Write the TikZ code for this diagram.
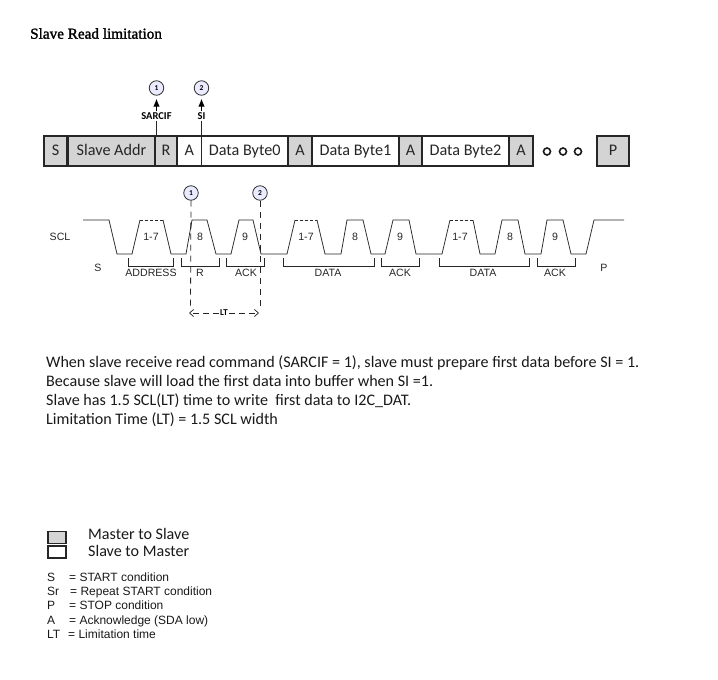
\documentclass[tikz,border=0pt]{standalone}
\usepackage{fontspec}
\setmainfont{Liberation Sans}
\newfontfamily\calfont{Carlito}
\newfontfamily\serfont[FakeBold=1.6]{Liberation Serif}
\usetikzlibrary{arrows.meta}
\tikzset{
  cell/.style={draw=black!85,line width=1.3pt,minimum height=30pt,inner sep=0pt,text height=11pt,text depth=3pt,font=\calfont\fontsize{16.2}{16}\selectfont,text=black!85},
  mst/.style={cell,fill=black!17},
  slv/.style={cell,fill=white},
  num/.style={circle,draw=black!80,line width=.8pt,fill=blue!8,minimum size=14.5pt,inner sep=0pt,font=\calfont\bfseries\fontsize{7.5}{7.5}\selectfont},
  tag/.style={font=\calfont\bfseries\fontsize{10.5}{10.5}\selectfont,inner sep=0pt},
  dotc/.style={circle,draw=black!90,line width=1.6pt,minimum size=7pt,inner sep=0pt},
  wave/.style={draw=black!85,line width=.75pt},
  sig/.style={font=\fontsize{10.6}{11}\selectfont,text=black!85,inner sep=0pt},
  body/.style={font=\calfont\fontsize{16.1}{16}\selectfont,anchor=west,inner sep=0pt,text=black!90,text height=11pt,text depth=3pt},
  key/.style={font=\fontsize{12}{12}\selectfont,anchor=west,inner sep=0pt,text=black!90,text height=9pt,text depth=3pt},
  swatch/.style={draw=black!85,line width=1.4pt,minimum width=18pt,minimum height=12pt,inner sep=0pt}
}
\begin{document}
\begin{tikzpicture}[x=1pt,y=-1pt]
\useasboundingbox (0,0) rectangle (718,680);
\node[font=\serfont\fontsize{15.2}{16}\selectfont,anchor=west,inner sep=0pt] (title) at (30,33.5) {Slave Read limitation};
% frame
\node[mst,minimum width=23pt] (bS) at (55.5,151) {S};
\node[mst,minimum width=87pt] (bAddr) at (111.5,151) {Slave Addr};
\node[mst,minimum width=22pt] (bR) at (166,151) {R};
\node[slv,minimum width=24.5pt] (bA0) at (189.25,151) {A};
\node[slv,minimum width=86.5pt] (bD0) at (244.75,151) {Data Byte0};
\node[mst,minimum width=24pt] (bA1) at (300,151) {A};
\node[slv,minimum width=87pt] (bD1) at (355.5,151) {Data Byte1};
\node[mst,minimum width=23pt] (bA2) at (410.5,151) {A};
\node[slv,minimum width=87pt] (bD2) at (465.5,151) {Data Byte2};
\node[mst,minimum width=24pt] (bA3) at (521,151) {A};
\node[dotc] (d1) at (547,151.5) {};
\node[dotc] (d2) at (563,151.5) {};
\node[dotc] (d3) at (578,151.5) {};
\node[mst,minimum width=32pt] (bP) at (613,151) {P};
% markers above frame
\node[num] (t1) at (156.5,88) {1};
\node[num] (t2) at (201.5,88) {2};
\node[tag] (sarcif) at (156.5,116) {SARCIF};
\node[tag] (si) at (201.5,116) {SI};
\draw[black!85,line width=.8pt,shorten <=1pt] (sarcif.south) -- (sarcif.south |- bR.north);
\draw[black!85,line width=.8pt,shorten <=1pt] (si.south) -- (si.south |- bA0.north);
\draw[-{Latex[length=8pt,width=6.5pt]},black,line width=1pt,shorten <=1pt,shorten >=3pt] (sarcif.north) -- (t1.south);
\draw[-{Latex[length=8pt,width=6.5pt]},black,line width=1pt,shorten <=1pt,shorten >=3pt] (si.north) -- (t2.south);
% SCL waveform
\draw[wave] (83,220) -- (109,220) -- (117,254) -- (132,254) -- (140,220);
\draw[wave,dash pattern=on 3pt off 2pt] (140,220) -- (163,220);
\draw[wave] (163,220) -- (171,254) -- (186,254) -- (192,220) -- (207,220) -- (216,254) -- (231,254) -- (239,220) -- (253,220) -- (261,254) -- (287,254) -- (295,220);
\draw[wave,dash pattern=on 3pt off 2pt] (295,220) -- (317,220);
\draw[wave] (317,220) -- (325,254) -- (341,254) -- (347,220) -- (363,220) -- (371,254) -- (385,254) -- (393,220) -- (409,220) -- (416,254) -- (442,254) -- (450,220);
\draw[wave,dash pattern=on 3pt off 2pt] (450,220) -- (473,220);
\draw[wave] (473,220) -- (480,254) -- (495,254) -- (502,220) -- (518,220) -- (525,254) -- (541,254) -- (547,220) -- (563,220) -- (571,254) -- (586,254) -- (594,220) -- (624,220);
% brackets
\foreach \a/\b in {128/173,181/219,226/264,283/374,381/419,439/529,537/575}
  \draw[wave] (\a,258) -- (\a,266) -- (\b,266) -- (\b,258);
% labels
\node[sig] (lscl) at (60,237) {SCL};
\node[sig] (ls) at (98,268) {S};
\node[sig] (lp) at (604,268) {P};
\node[sig] (la) at (151,272.5) {ADDRESS};
\node[sig] (lr) at (200,272.5) {R};
\node[sig] (lk0) at (246,272.5) {ACK};
\node[sig] (ld1) at (328,272.5) {DATA};
\node[sig] (lk1) at (400,272.5) {ACK};
\node[sig] (ld2) at (483,272.5) {DATA};
\node[sig] (lk2) at (555,272.5) {ACK};
\foreach \x/\t in {151/1-7,200/8,245/9,306/1-7,355/8,400/9,460/1-7,510/8,555/9}
  \node[sig] at (\x,237) {\t};
% limitation span
\node[num] (m1) at (191,193) {1};
\node[num] (m2) at (260,193) {2};
\coordinate (e1) at (190.5,310);
\coordinate (e2) at (260,310);
\draw[black!85,line width=.8pt,dash pattern=on 6pt off 5pt] (m1.south) -- (e1);
\draw[black!85,line width=.8pt,dash pattern=on 6pt off 5pt] (m2.south) -- (e2);
\node[font=\calfont\bfseries\fontsize{9}{9}\selectfont,inner sep=1pt] (lt) at (224,313) {LT};
\coordinate (al) at (189,313);
\coordinate (ar) at (259,313);
\draw[-{Straight Barb[length=4pt,width=7pt]},black!85,line width=.75pt,dash pattern=on 6pt off 4pt] (lt.west) -- (al);
\draw[-{Straight Barb[length=4pt,width=7pt]},black!85,line width=.75pt,dash pattern=on 6pt off 4pt] (lt.east) -- (ar);
% body
\node[body] (p1) at (46,363) {When slave receive read command (SARCIF = 1), slave must prepare first data before SI = 1.};
\node[body] (p2) at (46,382) {Because slave will load the first data into buffer when SI =1.};
\node[body] (p3) at (46,401) {Slave has 1.5 SCL(LT) time to write\ \ first data to I2C\_DAT.};
\node[body] (p4) at (46,420) {Limitation Time (LT) = 1.5 SCL width};
% legend
\node[swatch,fill=black!17] (sw1) at (57,537.5) {};
\node[swatch,fill=white] (sw2) at (57,552) {};
\node[body] (k1) at (88,535) {Master to Slave};
\node[body] (k2) at (88,552) {Slave to Master};
\node[key] (a1) at (47,578) {S};
\node[key] (b1) at (69,578) {= START condition};
\node[key] (a2) at (47,592) {Sr};
\node[key] (b2) at (70,592) {= Repeat START condition};
\node[key] (a3) at (47,606.5) {P};
\node[key] (b3) at (69,606.5) {= STOP condition};
\node[key] (a4) at (47,621) {A};
\node[key] (b4) at (69,621) {= Acknowledge (SDA low)};
\node[key] (a5) at (47,635) {LT};
\node[key] (b5) at (68,635) {= Limitation time};
\end{tikzpicture}
\end{document}
